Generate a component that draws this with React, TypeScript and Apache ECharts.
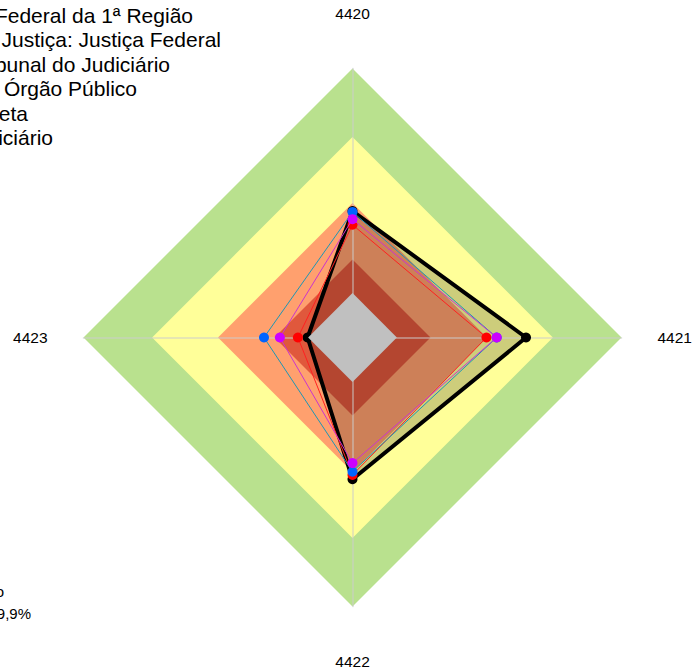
import React, { useEffect, useRef } from "react";
import * as echarts from "echarts";

// Indicators in display order (top, left, bottom, right; ECharts radar runs counter-clockwise)
const indicatorNames = ["4420", "4423", "4422", "4421"];
const indicatorMax = 100;

// Background bands (percent of max)
const bandGreen = [100, 100, 100, 100];
const bandYellow = [74.5, 74.5, 74.5, 74.5];
const bandOrange = [50, 50, 50, 50];
const bandDarkRed = [29, 29, 29, 29];
const bandGray = [16.5, 16.5, 16.5, 16.5];

// Series values, same order as indicatorNames
const trfValues = [47.0, 16.7, 52.7, 64.5];
const segmentoValues = [46.7, 32.9, 49.9, 53.6];
const tribunalValues = [44.0, 27.0, 46.7, 53.6];
const orgaoValues = [41.9, 20.3, 51.1, 49.8];

const legendLines = [
  "Tribunal Regional Federal da 1ª Região",
  "Segmento de Justiça: Justiça Federal",
  "Melhor Tribunal do Judiciário",
  "Melhor Órgão Público",
  "Meta",
  "Poder Judiciário",
];
const noteLines = ["Desempenho", "Meta: 99,9%"];

const FONT = '"Liberation Sans", Arial, sans-serif';

export default function App() {
  const ref = useRef<HTMLDivElement>(null);
  useEffect(() => {
    if (!ref.current) return;
    const chart = echarts.init(ref.current, null, { renderer: "svg" });
    const legendRight = [193, 221, 170, 137, 28, 53];
    const legendY = [15, 39.5, 64, 88.5, 113, 137.5];
    const graphics: any[] = legendLines.map((t, i) => ({
      type: "text",
      x: legendRight[i],
      y: legendY[i],
      z: 10,
      style: {
        text: t,
        fill: "#000",
        font: `21px ${FONT}`,
        align: "right",
        textAlign: "right",
        verticalAlign: "middle",
        textVerticalAlign: "middle",
      },
    }));
    const noteRight = [4, 31];
    const noteY = [591, 613];
    noteLines.forEach((t, i) =>
      graphics.push({
        type: "text",
        x: noteRight[i],
        y: noteY[i],
        z: 10,
        style: {
          text: t,
          fill: "#000",
          font: `15px ${FONT}`,
          align: "right",
          textAlign: "right",
          verticalAlign: "middle",
          textVerticalAlign: "middle",
        },
      })
    );

    const bandItem = (name: string, value: number[], color: string) => ({
      name,
      value,
      symbol: "none",
      lineStyle: { width: 0, opacity: 0 },
      areaStyle: { color, opacity: 1 },
    });

    const lineSeries = (name: string, value: number[], line: string, dot: string, width: number, z: number) => ({
      type: "radar",
      name,
      z,
      silent: true,
      data: [
        {
          name,
          value,
          symbol: "circle",
          symbolSize: 10,
          itemStyle: { color: dot, borderWidth: 0 },
          lineStyle: { color: line, width },
        },
      ],
    });

    chart.setOption({
      animation: false,
      backgroundColor: "#ffffff",
      textStyle: { fontFamily: FONT },
      radar: {
        center: [352.5, 337.5],
        radius: 269,
        startAngle: 90,
        shape: "polygon",
        splitNumber: 1,
        z: 3,
        axisNameGap: 36,
        axisName: {
          color: "#000",
          fontFamily: FONT,
          fontSize: 15.5,
          padding: [11, 0, 11, 0],
        },
        indicator: indicatorNames.map((n) => ({ name: n, max: indicatorMax, min: 0 })),
        axisLine: { lineStyle: { color: "rgba(205,205,205,0.65)", width: 1.5 } },
        splitLine: { show: false },
        splitArea: { show: false },
        axisTick: { show: false },
        axisLabel: { show: false },
      },
      graphic: graphics,
      series: [
        {
          type: "radar",
          name: "Poder Judiciário",
          z: 1,
          silent: true,
          data: [
            bandItem("Faixa 100", bandGreen, "#B9E18E"),
            bandItem("Faixa 75", bandYellow, "#FFFF99"),
            bandItem("Faixa 50", bandOrange, "#FFA06E"),
            bandItem("Faixa 29", bandDarkRed, "#E0583C"),
          ],
        },
        {
          type: "radar",
          name: "Tribunal Regional Federal da 1ª Região (área)",
          z: 2,
          silent: true,
          data: [
            {
              name: "Tribunal Regional Federal da 1ª Região",
              value: trfValues,
              symbol: "none",
              lineStyle: { width: 0, opacity: 0 },
              areaStyle: { color: "rgba(0,0,0,0.28)" },
            },
          ],
        },
        lineSeries("Tribunal Regional Federal da 1ª Região", trfValues, "#000000", "#000000", 4, 4),
        lineSeries("Melhor Órgão Público", orgaoValues, "#FF2020", "#FF0000", 1, 5),
        lineSeries("Segmento de Justiça: Justiça Federal", segmentoValues, "#1E96B4", "#0064FF", 1, 6),
        lineSeries("Melhor Tribunal do Judiciário", tribunalValues, "#CC33CC", "#CC00FF", 1, 7),
        {
          type: "radar",
          name: "Meta",
          z: 8,
          silent: true,
          data: [bandItem("Faixa 16", bandGray, "#C0C0C0")],
        },
      ],
    });
    return () => chart.dispose();
  }, []);
  return (
    <div
      ref={ref}
      style={{ position: "absolute", left: 0, top: 0, width: 693, height: 669, background: "#fff" }}
    />
  );
}
